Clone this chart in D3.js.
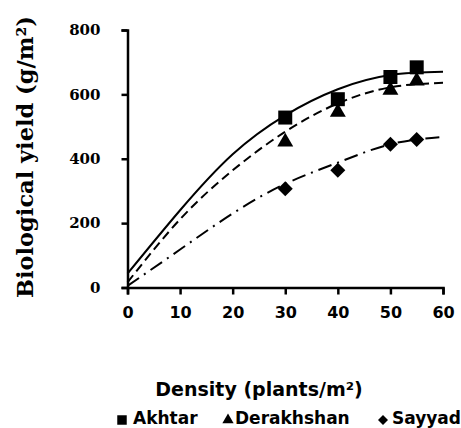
<!DOCTYPE html>
<html><head><meta charset="utf-8">
<script src="https://cdn.jsdelivr.net/npm/d3@7"></script>
<style>body{margin:0;background:#fff}svg{display:block}</style>
</head><body>
<svg id="c" width="461" height="428"></svg>
<script>
const xTicks = [0, 10, 20, 30, 40, 50, 60];
const yTicks = [0, 200, 400, 600, 800];
const density = [30, 40, 50, 55];
const akhtar = [528, 585, 654, 684];
const derakhshan = [452, 545, 613, 642];
const sayyad = [307, 364, 445, 460];
// trend-line readings at x = 0,10,...,60
const trendX = [0, 10, 20, 30, 40, 50, 60];
const akhtarTrend = [43, 240, 414, 535, 616, 660, 670];
const derakhshanTrend = [16, 212, 364, 484, 572, 622, 636];
const sayyadTrend = [5, 118, 230, 322, 388, 445, 468];
const seriesNames = ["Akhtar", "Derakhshan", "Sayyad"];

const svg = d3.select("#c");
const x = d3.scaleLinear().domain([0, 60]).range([127.5, 443]);
const y = d3.scaleLinear().domain([0, 800]).range([287.5, 30]);

const diamond = {draw(ctx, size) { const r = Math.sqrt(size) / 2;
  ctx.moveTo(0, -r); ctx.lineTo(r, 0); ctx.lineTo(0, r); ctx.lineTo(-r, 0); ctx.closePath(); }};

const series = [
  {name: seriesNames[0], pts: akhtar, trend: akhtarTrend, sym: d3.symbolSquare, size: 196, lsize: 90, dash: null},
  {name: seriesNames[1], pts: derakhshan, trend: derakhshanTrend, sym: d3.symbolTriangle, size: 110, lsize: 55, dash: "9,5"},
  {name: seriesNames[2], pts: sayyad, trend: sayyadTrend, sym: diamond, size: 225, lsize: 100, dash: "14,6,2,6"}
];

const line = d3.line().x(d => x(d[0])).y(d => y(d[1])).curve(d3.curveNatural);
series.forEach(s => {
  svg.append("path").datum(trendX.map((t, i) => [t, s.trend[i]]))
    .attr("d", line).attr("fill", "none").attr("stroke", "#000")
    .attr("stroke-width", 2).attr("stroke-dasharray", s.dash);
});
series.forEach(s => {
  svg.selectAll(null).data(density.map((d, i) => [d, s.pts[i]])).enter()
    .append("path")
    .attr("d", d3.symbol().type(s.sym).size(s.size))
    .attr("transform", d => `translate(${x(d[0])},${y(d[1])})`)
    .attr("fill", "#000");
});

const xAxis = svg.append("g").attr("transform", "translate(0,287.5)")
  .call(d3.axisBottom(x).tickValues(xTicks).tickSize(7).tickPadding(12));
const yAxis = svg.append("g").attr("transform", "translate(127.5,0)")
  .call(d3.axisLeft(y).tickValues(yTicks).tickSize(6).tickPadding(21));
[xAxis, yAxis].forEach(a => {
  a.select(".domain").attr("stroke", "#000").attr("stroke-width", 2.5);
  a.selectAll(".tick line").attr("stroke", "#000").attr("stroke-width", 2.5);
  a.selectAll("text").attr("fill", "#000").style("font-weight", "bold");
});
xAxis.selectAll("text").style("font-family", "'DejaVu Sans', sans-serif").style("font-size", "16px");
yAxis.selectAll("text").style("font-family", "'DejaVu Serif', serif").style("font-size", "15px");

svg.append("text").attr("transform", "translate(33,157) rotate(-90)")
  .attr("text-anchor", "middle").style("font-family", "'DejaVu Serif', serif")
  .style("font-size", "22.5px").style("font-weight", "bold")
  .text("Biological yield (g/m²)");

svg.append("text").attr("x", 259).attr("y", 396).attr("text-anchor", "middle")
  .style("font-family", "'DejaVu Sans', sans-serif").style("font-size", "19px").style("font-weight", "bold")
  .text("Density (plants/m²)");

const legX = [[122, 133], [228, 235], [383, 392]];
series.forEach((s, i) => {
  svg.append("path").attr("d", d3.symbol().type(s.sym).size(s.lsize)())
    .attr("transform", `translate(${legX[i][0]},420)`).attr("fill", "#000");
  svg.append("text").attr("x", legX[i][1]).attr("y", 424)
    .style("font-family", "'DejaVu Sans', sans-serif").style("font-size", "17px").style("font-weight", "bold")
    .text(s.name);
});
</script>
</body></html>
